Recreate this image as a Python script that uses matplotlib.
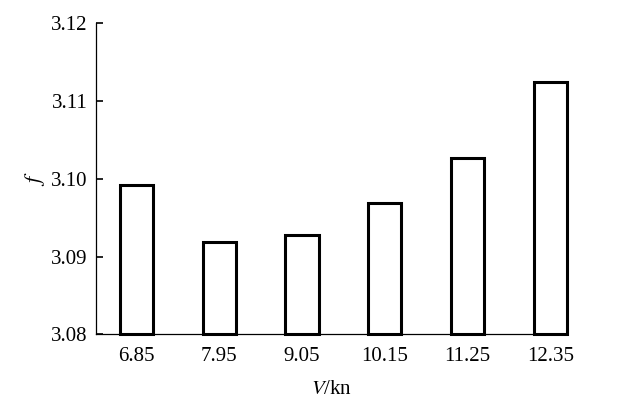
import matplotlib
matplotlib.use("Agg")
import matplotlib.pyplot as plt

speeds = ["6.85", "7.95", "9.05", "10.15", "11.25", "12.35"]
f_values = [3.0992, 3.0919, 3.0928, 3.0969, 3.1027, 3.1124]
y_ticks = [3.08, 3.09, 3.10, 3.11, 3.12]

plt.rcParams['font.family'] = ['Liberation Serif', 'DejaVu Serif']
plt.rcParams['mathtext.fontset'] = 'stix'

fig = plt.figure(figsize=(6.44, 4.16), dpi=100)
ax = fig.add_axes([0.149, 0.196, 0.731, 0.748])

pos = range(len(speeds))
bars = ax.bar(pos, [v - 3.08 for v in f_values], bottom=3.08, width=0.4,
              facecolor="white", edgecolor="black", linewidth=2.2)
for b in bars:
    b.set_clip_on(False)

ax.set_xlim(-0.49, 5.2)
ax.set_ylim(3.08, 3.12)
ax.set_xticks(list(pos))
ax.set_xticklabels(speeds)
ax.set_yticks(y_ticks)
ax.set_yticklabels(["%.2f" % t for t in y_ticks])

ax.spines["top"].set_visible(False)
ax.spines["right"].set_visible(False)
ax.spines["left"].set_linewidth(0.9)
ax.spines["bottom"].set_linewidth(0.9)

ax.tick_params(axis="y", direction="in", length=5, width=1.2, labelsize=15, pad=6)
ax.tick_params(axis="x", length=0, labelsize=15, pad=9)

ax.set_xlabel(r"$V$/kn", fontsize=15, labelpad=10)
ax.set_ylabel(r"$f$", fontsize=16, labelpad=3)

fig.savefig("out.png", dpi=100)
